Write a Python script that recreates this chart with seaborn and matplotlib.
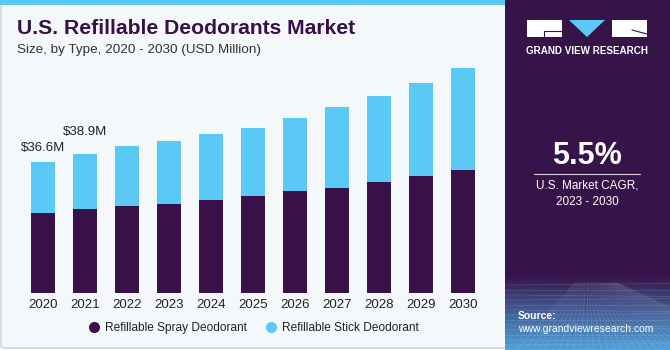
import numpy as np
import pandas as pd
import matplotlib
matplotlib.use("Agg")
import matplotlib.pyplot as plt
import seaborn as sns
from matplotlib.patches import Rectangle, FancyBboxPatch, Polygon
from matplotlib.lines import Line2D

years = ["2020", "2021", "2022", "2023", "2024", "2025", "2026", "2027", "2028", "2029", "2030"]
spray = [22.4, 23.4, 24.3, 24.9, 26.0, 27.0, 28.4, 29.3, 30.9, 32.6, 34.3]
stick = [14.2, 15.5, 16.8, 17.6, 18.3, 19.2, 20.6, 22.6, 24.1, 26.1, 28.5]
labels = {"2020": "$36.6M", "2021": "$38.9M"}
series_names = ["Refillable Spray Deodorant", "Refillable Stick Deodorant"]

DARK = "#371148"
BLUE = "#5bc9f6"
BG = "#f4f8fb"
PANEL = "#361349"

sns.set_theme(style="white")
plt.rcParams["font.family"] = ["Liberation Sans", "DejaVu Sans"]

W, H = 670, 350
fig = plt.figure(figsize=(W / 100, H / 100), dpi=100)
fig.patch.set_facecolor("white")

def fx(px):
    return px / W

def fy(py):
    return 1 - py / H

# left panel background with border
fig.patches.append(FancyBboxPatch((fx(1), fy(348)), fx(505), (346) / H,
                                  boxstyle="round,pad=0,rounding_size=0.006",
                                  transform=fig.transFigure, facecolor=BG,
                                  edgecolor="#c9cdd2", linewidth=1.0, zorder=-2))
# top blue stripe
fig.patches.append(Rectangle((0, fy(5)), fx(506), 5 / H, transform=fig.transFigure,
                             facecolor=BLUE, edgecolor="none", zorder=-1))

# right panel with gradient
pax = fig.add_axes([fx(505), 0, fx(165), 1])
pax.set_axis_off()
grad = np.zeros((350, 1, 3))
top = np.array(matplotlib.colors.to_rgb(PANEL))
bot = np.array(matplotlib.colors.to_rgb("#4fa3dc"))
for i in range(350):
    t = 0.0 if i < 276 else ((i - 276) / 74) ** 0.9
    grad[i, 0] = top * (1 - t) + bot * t
pax.imshow(grad, aspect="auto", extent=[0, 165, 350, 0])
# faint mesh lines
for k in range(14):
    yy = 285 + k * 5
    pax.plot([0, 165], [yy, yy + (k % 3 - 1) * 1.5], color="white", alpha=0.12, lw=0.6)
for k in range(-10, 26):
    x0 = 82 + k * 4
    pax.plot([82 + k * 1.2, x0 + k * 3], [283, 350], color="white", alpha=0.12, lw=0.6)
pax.set_xlim(0, 165)
pax.set_ylim(350, 0)

# logo
lx0 = 22
pax.add_patch(Rectangle((lx0, 20), 35, 17, facecolor="white", edgecolor="none"))
pax.plot([lx0 + 17, lx0 + 17, lx0 + 35], [37, 31, 31], color=PANEL, lw=0.8)
pax.add_patch(Polygon([[lx0 + 42, 20], [lx0 + 78, 20], [lx0 + 60, 37]], closed=True,
                      facecolor=BLUE, edgecolor="none"))
pax.add_patch(Rectangle((lx0 + 85, 20), 35, 17, facecolor="white", edgecolor="none"))
pax.plot([lx0 + 105, lx0 + 120], [30, 34], color=PANEL, lw=0.8)
pax.text(82, 51, "GRAND VIEW RESEARCH", color="white", fontsize=7.1, fontweight="bold",
         ha="center", va="center")
pax.text(82, 156, "5.5%", color="white", fontsize=22, fontweight="bold",
         ha="center", va="center")
pax.plot([29, 135], [173.5, 173.5], color="white", lw=0.8, alpha=0.8)
pax.text(82, 186, "U.S. Market CAGR,", color="white", fontsize=8.5, ha="center", va="center")
pax.text(82, 202, "2023 - 2030", color="white", fontsize=8.5, ha="center", va="center")
pax.text(13, 316, "Source:", color="white", fontsize=7.5, fontweight="bold",
         ha="left", va="center")
pax.text(13, 329, "www.grandviewresearch.com", color="white", fontsize=7.5,
         ha="left", va="center")

# titles
fig.text(fx(17), fy(29), "U.S. Refillable Deodorants Market", color=DARK,
         fontsize=15.2, fontweight="heavy", ha="left", va="center")
fig.text(fx(17), fy(50), "Size, by Type, 2020 - 2030 (USD Million)", color="#333333",
         fontsize=9.7, ha="left", va="center")

# main axes
scale = 3.58
base = 293
ymax = 70
ax = fig.add_axes([fx(21.8), (H - base) / H, fx(462), ymax * scale / H])
ax.set_facecolor("none")

df = pd.DataFrame({"year": years, "spray": spray, "stick": stick})
df["total"] = df["spray"] + df["stick"]

sns.barplot(data=df, x="year", y="total", color=BLUE, width=0.58, ax=ax,
            saturation=1, edgecolor="none")
sns.barplot(data=df, x="year", y="spray", color=DARK, width=0.58, ax=ax,
            saturation=1, edgecolor="none")

ax.set_ylim(0, ymax)
ax.set_xlim(-0.5, len(years) - 0.5)
ax.set_xlabel("")
ax.set_ylabel("")
ax.set_yticks([])
for s in ax.spines.values():
    s.set_visible(False)
ax.tick_params(axis="x", length=0, pad=4, labelsize=9.5, labelcolor="#222222")

offsets = {"2020": 10, "2021": 16}
for i, yr in enumerate(years):
    if yr in labels:
        ax.annotate(labels[yr], (i, df.loc[i, "total"]), xytext=(0, offsets[yr]),
                    textcoords="offset points", ha="center", va="center",
                    fontsize=9.5, color="#222222")

# legend
handles = [Line2D([], [], marker="o", linestyle="", markersize=8, markerfacecolor=c,
                  markeredgecolor="none") for c in (DARK, BLUE)]
fig.legend(handles, series_names, loc="center", bbox_to_anchor=(fx(254), fy(328)),
           ncol=2, frameon=False, fontsize=8.6, handlelength=0.9, handletextpad=0.45,
           columnspacing=1.6, labelcolor="#222222")

fig.savefig("out.png", dpi=100)
